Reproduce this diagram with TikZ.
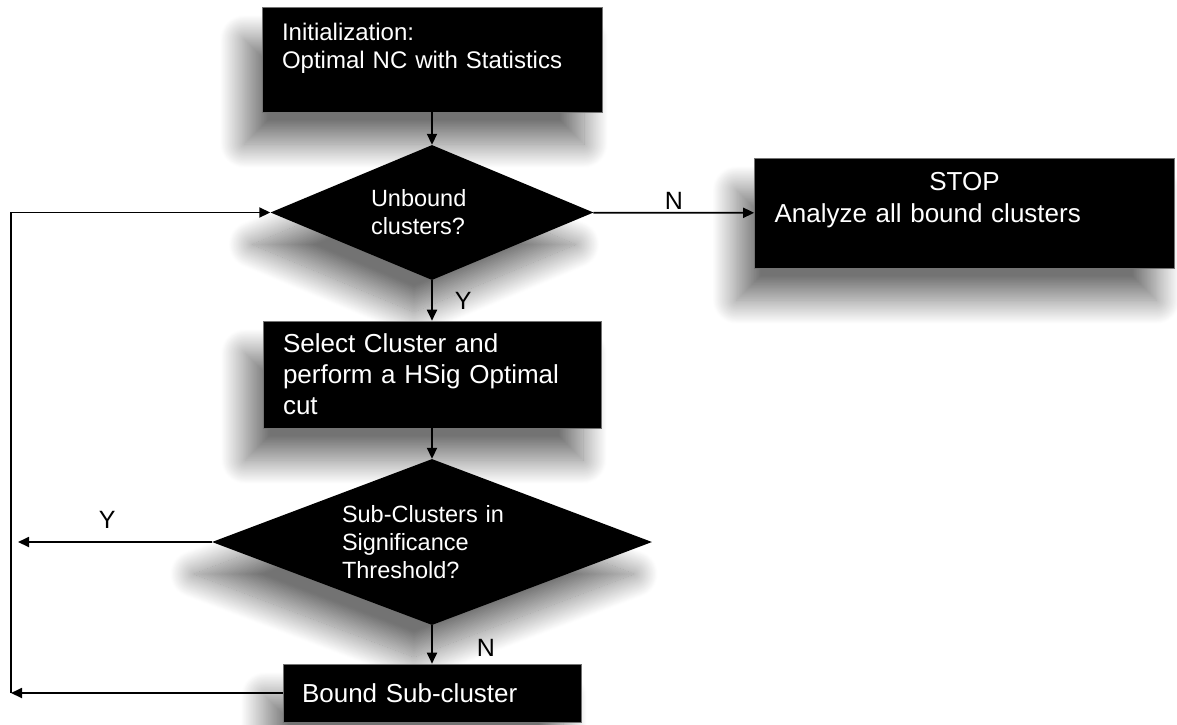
\documentclass[tikz,border=0pt]{standalone}
\usepackage{fontspec}
\setmainfont{Liberation Sans}
\usetikzlibrary{shapes.geometric,arrows.meta,shadows.blur}

\begin{document}
\begin{tikzpicture}[x=1pt,y=-1pt]
\tikzset{ombre/.style={blur shadow={shadow xshift=-18pt, shadow yshift=-32pt, shadow blur radius=24pt, shadow blur steps=40, shadow opacity=55}}}
\tikzset{boite/.style={rectangle, draw=black!55, line width=0.6pt, fill=black, text=white, inner xsep=20pt, inner ysep=0pt, align=left, font=\fontsize{26}{31}\selectfont, ombre}}
\tikzset{losange/.style={diamond, fill=black, text=white, inner sep=0pt, align=left, font=\fontsize{23.5}{28}\selectfont, ombre}}
\tikzset{fleche/.style={-{Triangle[length=11pt,width=10pt]}, line width=1.8pt}}
\tikzset{lettre/.style={font=\fontsize{25}{30}\selectfont, inner sep=2pt}}
\useasboundingbox (0,0) rectangle (1177,724);
\node[boite, font=\fontsize{24}{28}\selectfont, text width=300pt, minimum width=340pt, minimum height=105pt] (init) at (432,59.5) {Initialization:\\Optimal NC with Statistics\\ \mbox{}};
\node[losange, aspect=2.4, minimum width=323pt, minimum height=135pt, text width=122pt] (d1) at (432,212.5) {Unbound\\clusters?};
\node[boite, font=\fontsize{26}{32}\selectfont, text width=380pt, minimum width=420pt, minimum height=110pt] (stop) at (964.5,213) {\makebox[\linewidth]{STOP}\\Analyze all bound clusters\\ \mbox{}};
\node[boite, text width=298pt, minimum width=338pt, minimum height=107pt] (select) at (432,374.5) {Select Cluster and\\perform a HSig Optimal\\cut};
\node[losange, aspect=2.65, minimum width=440pt, minimum height=166pt, text width=180pt] (d2) at (432,542) {Sub-Clusters in\\Significance\\Threshold?};
\node[boite, inner xsep=19pt, text width=260pt, minimum width=298pt, minimum height=58pt] (bound) at (432,693) {Bound Sub-cluster};
\coordinate (yfin) at (18,542);
\coordinate (coin) at (11,693);
\draw[fleche] (init) -- (d1);
\draw[fleche] (d1) -- node[lettre, above] {N} (stop);
\draw[fleche] (d1) -- node[lettre, right=20pt] {Y} (select);
\draw[fleche] (select) -- (d2);
\draw[fleche] (d2) -- node[lettre, right=42pt, pos=0.6] {N} (bound);
\draw[fleche] (d2.west) -- node[lettre, above=11pt, pos=0.54] {Y} (yfin);
\draw[fleche] (bound) -- (coin);
\draw[fleche] (coin) |- (d1.west);
\end{tikzpicture}
\end{document}
